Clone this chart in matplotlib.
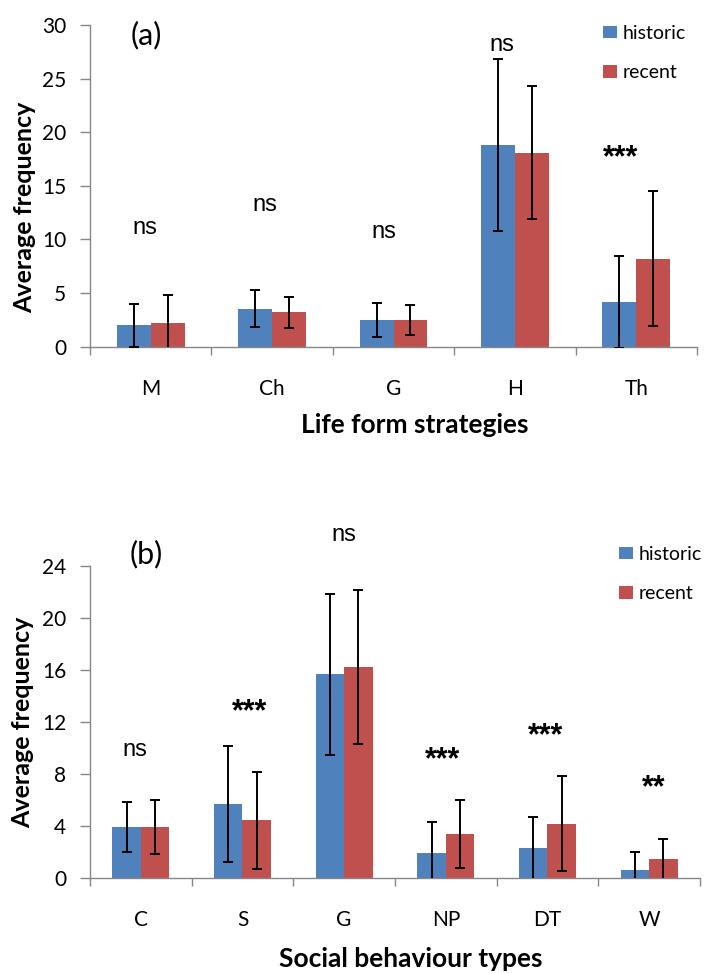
import numpy as np
import matplotlib
matplotlib.use("Agg")
import matplotlib.pyplot as plt
from matplotlib.patches import Patch

# panel (a): life form strategies
life_forms = ["M", "Ch", "G", "H", "Th"]
life_hist = [2.0, 3.55, 2.5, 18.8, 4.2]
life_hist_err = [2.0, 1.75, 1.55, 8.0, 4.3]
life_rec = [2.2, 3.2, 2.5, 18.1, 8.2]
life_rec_err = [2.6, 1.45, 1.4, 6.2, 6.3]
life_sig = ["ns", "ns", "ns", "ns", "***"]
life_sig_y = [11.05, 13.2, 10.7, 28.1, 17.6]

# panel (b): social behaviour types
social_types = ["C", "S", "G", "NP", "DT", "W"]
social_hist = [3.95, 5.7, 15.7, 1.95, 2.3, 0.65]
social_hist_err = [1.9, 4.45, 6.2, 2.35, 2.45, 1.35]
social_rec = [3.95, 4.45, 16.25, 3.4, 4.2, 1.45]
social_rec_err = [2.1, 3.7, 5.9, 2.6, 3.65, 1.6]
social_sig = ["ns", "***", "ns", "***", "***", "**"]
social_sig_y = [9.9, 12.8, 26.4, 9.1, 10.95, 6.9]

series_names = ["historic", "recent"]

BLUE = "#4F81BD"
RED = "#C0504D"
AXIS_GRAY = "#868686"

plt.rcParams["font.family"] = ["Lato", "DejaVu Sans"]


def draw_panel(ax, cats, hist, hist_err, rec, rec_err, sig, sig_y, sig_dx,
               ymax, ystep, letter, letter_y, xlabel, legend_xy, fig):
    x = np.arange(len(cats))
    w = 0.28

    ax.bar(x - w / 2, hist, width=w, color=BLUE, zorder=2)
    ax.bar(x + w / 2, rec, width=w, color=RED, zorder=2)
    ax.errorbar(x - w / 2, hist, yerr=hist_err, fmt="none", ecolor="black",
                elinewidth=1.4, capsize=3.6, capthick=1.4, zorder=3)
    ax.errorbar(x + w / 2, rec, yerr=rec_err, fmt="none", ecolor="black",
                elinewidth=1.4, capsize=3.6, capthick=1.4, zorder=3)

    for i, (s, yy) in enumerate(zip(sig, sig_y)):
        if "*" in s:
            ax.text(x[i] + sig_dx[i], yy, s, ha="center", va="center",
                    fontsize=22, fontweight="bold", family="Liberation Sans")
        else:
            ax.text(x[i] + sig_dx[i], yy, s, ha="center", va="center",
                    fontsize=17, family="Liberation Sans")

    ax.set_xlim(-0.5, len(cats) - 0.5)
    ax.set_ylim(0, ymax)

    # tick marks between categories, labels at centres
    ax.set_xticks(np.arange(len(cats) + 1) - 0.5)
    ax.set_xticklabels([])
    ax.set_xticks(x, minor=True)
    ax.set_xticklabels(cats, minor=True)
    ax.tick_params(axis="x", which="major", direction="out", length=6,
                   color=AXIS_GRAY, width=1.0)
    ax.tick_params(axis="x", which="minor", length=0, pad=23, labelsize=15)

    ax.set_yticks(np.arange(0, ymax + 0.1, ystep))
    ax.tick_params(axis="y", direction="out", length=7, color=AXIS_GRAY,
                   width=1.0, pad=10, labelsize=15)

    for side in ["top", "right"]:
        ax.spines[side].set_visible(False)
    for side in ["left", "bottom"]:
        ax.spines[side].set_color(AXIS_GRAY)
        ax.spines[side].set_linewidth(1.0)

    ax.set_ylabel("Average frequency", fontsize=18, fontweight="bold",
                  va="center")
    ax.set_xlabel(xlabel, fontsize=19, fontweight="bold", va="center")

    ax.text(0.092, letter_y, letter, transform=ax.transAxes, fontsize=22,
            ha="center", va="center")

    handles = [Patch(facecolor=BLUE, label=series_names[0]),
               Patch(facecolor=RED, label=series_names[1])]
    ax.legend(handles=handles, loc="upper left", bbox_to_anchor=legend_xy,
              bbox_transform=fig.transFigure, frameon=False, fontsize=14,
              handlelength=0.7, handleheight=0.6, handletextpad=0.3,
              labelspacing=1.15, borderpad=0, borderaxespad=0)


fig = plt.figure(figsize=(7.11, 9.74), dpi=100)
ax_a = fig.add_axes([90 / 711, 1 - 346.7 / 974, 607 / 711, 321.7 / 974])
ax_b = fig.add_axes([90 / 711, 1 - 878.3 / 974, 610 / 711, 312.0 / 974])

draw_panel(ax_a, life_forms, life_hist, life_hist_err, life_rec, life_rec_err,
           life_sig, life_sig_y, [-0.045, -0.06, -0.08, -0.11, -0.13],
           30, 5, "(a)", 0.97, "Life form strategies",
           (603 / 711, 1 - 25 / 974), fig)
draw_panel(ax_b, social_types, social_hist, social_hist_err, social_rec,
           social_rec_err, social_sig, social_sig_y,
           [-0.06, 0.07, 0.0, -0.03, -0.015, 0.04],
           24, 4, "(b)", 1.04, "Social behaviour types",
           (619 / 711, 1 - 546 / 974), fig)

ax_a.yaxis.set_label_coords(-0.107, 0.434)
ax_a.xaxis.set_label_coords(0.535, -0.243)
ax_b.yaxis.set_label_coords(-0.11, 0.5)
ax_b.xaxis.set_label_coords(0.526, -0.258)

fig.savefig("out.png", dpi=100)
